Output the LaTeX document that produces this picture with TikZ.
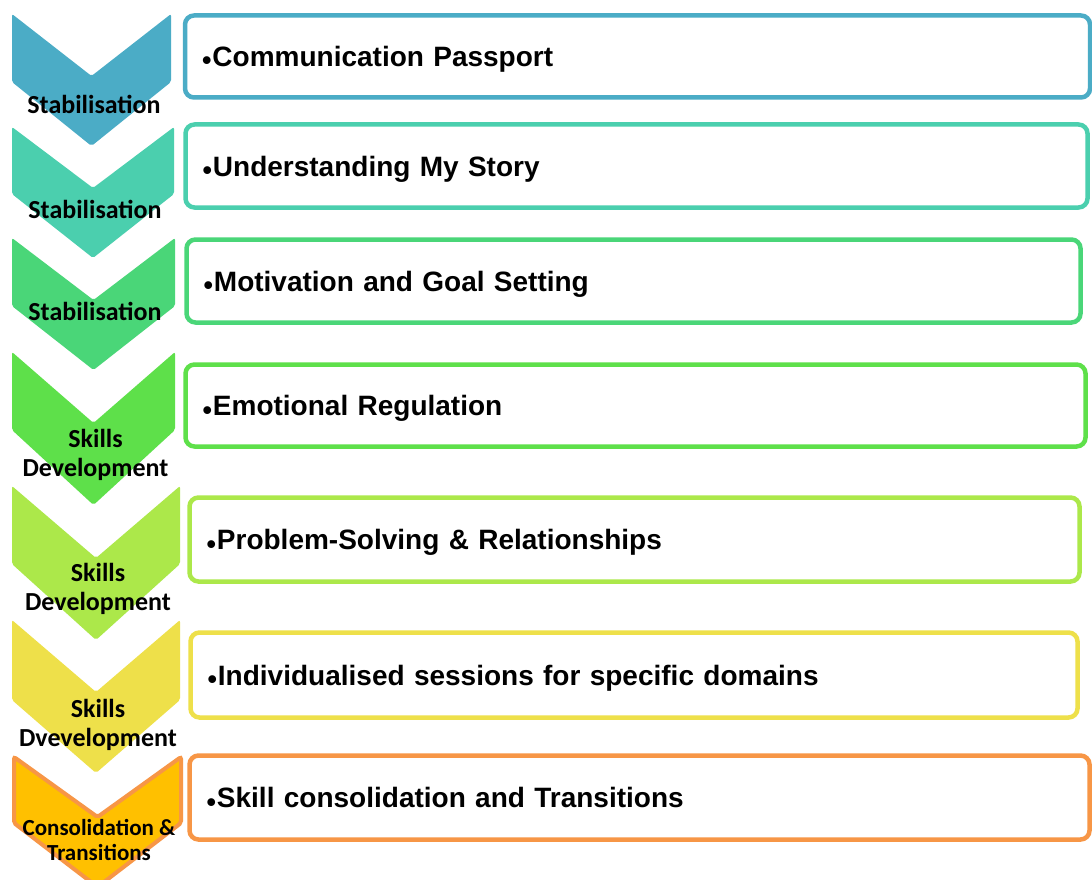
\documentclass[tikz,border=0pt]{standalone}
\usepackage{fontspec}
\setmainfont{Liberation Sans}
\newfontfamily\chevfont{Carlito}

\definecolor{stepA}{HTML}{4BACC6}
\definecolor{stepB}{HTML}{4BCFAE}
\definecolor{stepC}{HTML}{4AD678}
\definecolor{stepD}{HTML}{5EE04A}
\definecolor{stepE}{HTML}{ACE84A}
\definecolor{stepF}{HTML}{EEE04A}
\definecolor{stepG}{HTML}{FFC000}
\definecolor{stepGline}{HTML}{F79646}

% chevron: [style]{left x}{right x}{top y}{notch y}{side y}{tip y}
\newcommand{\chevron}[7][]{%
  \path[#1, rounded corners=2pt] (#2,#4) -- ({(#2+#3)/2},#5) -- (#3,#4)
    -- (#3,#6) -- ({(#2+#3)/2},#7) -- (#2,#6) -- cycle;}
\newcommand{\dotmark}{\raisebox{-3.5pt}{\fontsize{27}{27}\selectfont\textbullet}\kern1pt}

\tikzset{
  stagebox/.style={draw=#1, line width=4.5pt, rounded corners=9pt, fill=white,
    align=left, inner xsep=17pt, inner ysep=0pt, text height=20pt, text depth=0pt,
    font=\bfseries\fontsize{28}{32}\selectfont},
  stagelabel/.style={font=\chevfont\bfseries\fontsize{26}{29}\selectfont,
    align=center, inner sep=0pt}
}

\begin{document}
\begin{tikzpicture}[x=1pt,y=-1pt]
\useasboundingbox (0,0) rectangle (1092,880);
\fill[white] (0,0) rectangle (1092,880);

% chevrons
\chevron[fill=stepA]{12}{171}{14}{76}{82}{146}
\chevron[fill=stepB]{12}{174}{127}{188}{194}{258}
\chevron[fill=stepC]{12}{175}{238}{300}{306}{370}
\chevron[fill=stepD]{12}{175}{352}{423}{430}{505}
\chevron[fill=stepE]{12}{180}{486}{558}{564}{640}
\chevron[fill=stepF]{12}{180}{620}{692}{700}{773}
\chevron[fill=stepG, draw=stepGline, line width=4pt]{14}{181}{757}{817}{823}{887}

% chevron labels
\node[stagelabel] (lab1) at (94,104) {Stabilisation};
\node[stagelabel] (lab2) at (95,209) {Stabilisation};
\node[stagelabel] (lab3) at (95,311) {Stabilisation};
\node[stagelabel] (lab4) at (95.5,455) {Skills\\Development};
\node[stagelabel] (lab5) at (98,589) {Skills\\Development};
\node[stagelabel] (lab6) at (98,725) {Skills\\Dvevelopment};
\node[stagelabel, font=\chevfont\bfseries\fontsize{23}{25}\selectfont] (lab7) at (99,840) {Consolidation \&\\Transitions};

% boxes
\node[stagebox=stepA, minimum width=905, minimum height=82, text width=871] (box1) at (637.5,56.5) {\dotmark Communication Passport};
\node[stagebox=stepB, minimum width=902, minimum height=83, text width=868] (box2) at (636.5,166) {\dotmark Understanding My Story};
\node[stagebox=stepC, minimum width=894, minimum height=83, text width=860] (box3) at (633.5,281) {\dotmark Motivation and Goal Setting};
\node[stagebox=stepD, minimum width=900, minimum height=82, text width=866] (box4) at (635.5,405.5) {\dotmark Emotional Regulation};
\node[stagebox=stepE, minimum width=890, minimum height=84, text width=856] (box5) at (634.5,539.5) {\dotmark Problem-Solving \& Relationships};
\node[stagebox=stepF, minimum width=887, minimum height=85, text width=853] (box6) at (634,675) {\dotmark Individualised sessions for specific domains};
\node[stagebox=stepGline, minimum width=900, minimum height=84, text width=866] (box7) at (639.5,797.5) {\dotmark Skill consolidation and Transitions};
\end{tikzpicture}
\end{document}
